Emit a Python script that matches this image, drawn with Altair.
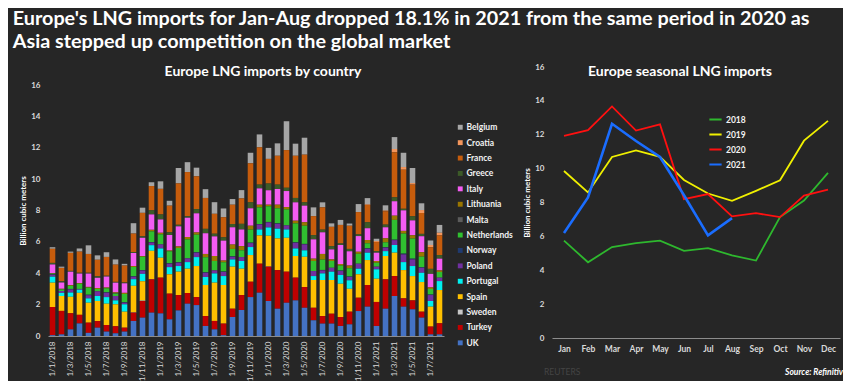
import altair as alt
import pandas as pd

# ---------------- data ----------------
countries = ["Belgium", "Croatia", "France", "Greece", "Italy", "Lithuania", "Malta",
             "Netherlands", "Norway", "Poland", "Portugal", "Spain", "Sweden", "Turkey", "UK"]
country_colors = ["#a6a6a6", "#f4965c", "#c65c0c", "#3c5a28", "#f45cf2", "#9a7600", "#5c5c5c",
                  "#30c030", "#1f3a70", "#7030a0", "#00f0f0", "#ffc000", "#c8c8c8", "#c00000", "#4472c4"]

month_labels = []
for yr in (2018, 2019, 2020, 2021):
    for m in range(1, 13):
        month_labels.append(f"1/{m}/{yr}")
month_labels = month_labels[:44]
tick_labels = month_labels[::2]

uk = [0.05, 0.10, 0.42, 0.80, 0.20, 0.53, 0.28, 0.17, 0.28, 0.96,
      1.17, 1.49, 1.44, 1.06, 1.63, 2.06, 1.97, 0.64, 0.42, 0.05,
      1.21, 1.66, 2.48, 2.76, 2.23, 1.74, 2.12, 2.27, 1.80, 1.00,
      0.79, 0.79, 0.64, 0.74, 1.59, 1.87, 0.64, 1.74, 2.55, 1.87,
      1.70, 1.17, 0.10, 0.10]
turkey = [1.80, 1.50, 1.03, 0.55, 0.65, 0.42, 0.42, 0.45, 0.25, 0.53,
          1.06, 2.12, 2.28, 1.64, 0.98, 0.68, 0.51, 0.63, 0.54, 0.74,
          0.53, 0.95, 0.98, 1.85, 2.19, 2.46, 1.98, 1.45, 1.32, 0.80,
          0.48, 0.63, 0.57, 0.81, 0.85, 1.38, 1.53, 1.87, 1.27, 0.53,
          0.57, 0.38, 0.50, 0.71]
sweden = [0.00, 0.00, 0.00, 0.00, 0.00, 0.00, 0.00, 0.00, 0.00, 0.02,
          0.03, 0.02, 0.00, 0.00, 0.00, 0.00, 0.00, 0.00, 0.00, 0.00,
          0.00, 0.00, 0.00, 0.00, 0.02, 0.00, 0.00, 0.00, 0.00, 0.00,
          0.00, 0.00, 0.00, 0.00, 0.00, 0.00, 0.00, 0.00, 0.00, 0.00,
          0.00, 0.00, 0.00, 0.00]
spain = [1.55, 0.95, 1.05, 1.40, 1.27, 1.28, 1.36, 1.40, 1.02, 1.69,
         1.23, 1.80, 1.27, 1.23, 1.49, 1.55, 1.98, 1.98, 2.44, 2.46,
         2.68, 1.68, 1.70, 1.80, 1.95, 2.02, 2.16, 1.38, 1.93, 1.77,
         2.30, 2.15, 2.12, 1.46, 1.49, 1.59, 1.48, 1.49, 1.49, 1.80,
         1.55, 1.89, 1.27, 2.12]
portugal = [0.38, 0.20, 0.27, 0.20, 0.28, 0.32, 0.42, 0.25, 0.47, 0.42,
            0.47, 0.36, 0.59, 0.46, 0.36, 0.42, 0.57, 0.51, 0.59, 0.57,
            0.46, 0.49, 0.51, 0.38, 0.53, 0.62, 0.53, 0.48, 0.41, 0.25,
            0.42, 0.53, 0.56, 0.54, 0.36, 0.47, 0.60, 0.31, 0.49, 0.51,
            0.64, 0.59, 0.36, 0.57]
poland = [0.12, 0.12, 0.20, 0.05, 0.20, 0.30, 0.28, 0.28, 0.10, 0.16,
          0.21, 0.17, 0.26, 0.22, 0.21, 0.24, 0.28, 0.27, 0.19, 0.26,
          0.17, 0.25, 0.25, 0.32, 0.32, 0.31, 0.26, 0.36, 0.38, 0.32,
          0.19, 0.25, 0.25, 0.21, 0.32, 0.25, 0.17, 0.22, 0.31, 0.49,
          0.42, 0.32, 0.38, 0.22]
norway = [0.03, 0.00, 0.03, 0.00, 0.03, 0.00, 0.03, 0.00, 0.03, 0.03,
          0.03, 0.03, 0.00, 0.03, 0.03, 0.00, 0.03, 0.03, 0.00, 0.03,
          0.03, 0.00, 0.03, 0.03, 0.03, 0.03, 0.00, 0.03, 0.03, 0.00,
          0.03, 0.00, 0.03, 0.03, 0.00, 0.03, 0.00, 0.03, 0.03, 0.05,
          0.05, 0.03, 0.03, 0.00]
netherlands = [0.05, 0.10, 0.20, 0.33, 0.45, 0.15, 0.25, 0.15, 0.53, 0.59,
               0.85, 0.68, 0.64, 0.76, 0.91, 1.21, 1.12, 0.96, 0.60, 0.59,
               0.47, 0.43, 0.83, 1.06, 1.00, 0.96, 1.02, 1.21, 1.16, 0.64,
               0.66, 0.43, 0.32, 0.53, 0.63, 0.32, 0.25, 0.31, 1.26, 1.28,
               1.28, 0.68, 0.36, 0.36]
malta = [0.00, 0.00, 0.00, 0.00, 0.00, 0.00, 0.00, 0.03, 0.00, 0.00,
         0.00, 0.00, 0.00, 0.00, 0.00, 0.00, 0.00, 0.00, 0.00, 0.00,
         0.00, 0.00, 0.00, 0.00, 0.00, 0.00, 0.00, 0.00, 0.00, 0.00,
         0.00, 0.00, 0.00, 0.00, 0.00, 0.00, 0.00, 0.00, 0.00, 0.00,
         0.00, 0.00, 0.00, 0.00]
lithuania = [0.03, 0.04, 0.05, 0.05, 0.05, 0.06, 0.05, 0.05, 0.07, 0.06,
             0.05, 0.10, 0.10, 0.05, 0.10, 0.15, 0.14, 0.21, 0.32, 0.11,
             0.28, 0.27, 0.25, 0.17, 0.10, 0.23, 0.15, 0.17, 0.22, 0.15,
             0.36, 0.10, 0.10, 0.17, 0.13, 0.21, 0.11, 0.26, 0.27, 0.17,
             0.21, 0.28, 0.10, 0.10]
italy = [0.55, 0.40, 0.85, 0.60, 0.85, 0.65, 0.70, 0.62, 0.61, 0.83,
         1.16, 0.98, 0.85, 0.99, 1.28, 1.23, 1.22, 1.32, 1.25, 1.27,
         1.10, 1.06, 1.11, 1.04, 0.92, 1.00, 1.02, 1.17, 1.06, 1.23,
         1.38, 0.64, 1.21, 0.91, 1.00, 0.75, 0.53, 0.70, 0.92, 1.31,
         0.95, 1.02, 0.86, 0.75]
greece = [0.10, 0.08, 0.05, 0.05, 0.05, 0.10, 0.05, 0.05, 0.05, 0.06,
          0.10, 0.26, 0.32, 0.17, 0.10, 0.10, 0.27, 0.28, 0.17, 0.21,
          0.21, 0.36, 0.38, 0.24, 0.43, 0.28, 0.21, 0.28, 0.21, 0.27,
          0.17, 0.21, 0.10, 0.15, 0.11, 0.38, 0.10, 0.17, 0.25, 0.10,
          0.26, 0.15, 0.32, 0.23]
france = [0.90, 0.85, 1.15, 1.35, 1.20, 1.05, 1.20, 1.10, 1.08, 1.18,
          1.49, 1.55, 1.63, 1.70, 2.64, 2.81, 2.09, 1.97, 1.27, 1.28,
          1.23, 1.62, 2.49, 2.38, 1.57, 1.84, 2.40, 2.69, 3.04, 1.21,
          1.42, 1.23, 1.18, 1.48, 1.42, 1.10, 0.58, 0.85, 2.87, 2.49,
          2.02, 1.33, 1.38, 1.25]
croatia = [0.00, 0.00, 0.00, 0.00, 0.00, 0.00, 0.00, 0.00, 0.00, 0.00,
           0.00, 0.00, 0.00, 0.00, 0.00, 0.00, 0.00, 0.00, 0.00, 0.00,
           0.00, 0.00, 0.00, 0.00, 0.00, 0.00, 0.00, 0.00, 0.00, 0.00,
           0.00, 0.00, 0.00, 0.00, 0.00, 0.04, 0.06, 0.05, 0.21, 0.17,
           0.10, 0.19, 0.14, 0.17]
belgium = [0.10, 0.08, 0.08, 0.20, 0.55, 0.28, 0.30, 0.33, 0.11, 0.66,
           0.33, 0.24, 0.48, 0.31, 0.98, 0.63, 0.55, 0.56, 0.74, 0.56,
           0.36, 0.53, 0.67, 0.82, 0.70, 0.79, 1.84, 0.77, 1.08, 0.56,
           0.32, 0.22, 0.32, 0.14, 0.51, 0.40, 0.15, 0.33, 0.76, 0.91,
           0.96, 0.43, 0.29, 0.50]

series = {"Belgium": belgium, "Croatia": croatia, "France": france, "Greece": greece,
          "Italy": italy, "Lithuania": lithuania, "Malta": malta, "Netherlands": netherlands,
          "Norway": norway, "Poland": poland, "Portugal": portugal, "Spain": spain,
          "Sweden": sweden, "Turkey": turkey, "UK": uk}

month_names = ["Jan", "Feb", "Mar", "Apr", "May", "Jun", "Jul", "Aug", "Sep", "Oct", "Nov", "Dec"]
years = ["2018", "2019", "2020", "2021"]
year_colors = ["#2eb82e", "#f0f000", "#ff1010", "#1a6dff"]
y2018 = [5.75, 4.47, 5.37, 5.60, 5.75, 5.14, 5.31, 4.88, 4.57, 7.14, 8.12, 9.75]
y2019 = [9.86, 8.59, 10.69, 11.08, 10.70, 9.33, 8.53, 8.10, 8.69, 9.31, 11.65, 12.82]
y2020 = [11.94, 12.27, 13.67, 12.25, 12.61, 8.20, 8.50, 7.18, 7.37, 7.14, 8.41, 8.76]
y2021 = [6.20, 8.30, 12.65, 11.63, 10.69, 8.43, 6.06, 7.08]

title_lines = ["Europe's LNG imports for Jan-Aug dropped 18.1% in 2021 from the same period in 2020 as",
               "Asia stepped up competition on the global market"]

# ---------------- tables ----------------
rows = []
for i, c in enumerate(countries):
    for lbl, v in zip(month_labels, series[c]):
        rows.append({"month": lbl, "country": c, "value": v, "rank": len(countries) - 1 - i})
df_bars = pd.DataFrame(rows)

lrows = []
for yr, vals in zip(years, [y2018, y2019, y2020, y2021]):
    for mn, v in zip(month_names, vals):
        lrows.append({"mon": mn, "year": yr, "val": v})
df_lines = pd.DataFrame(lrows)

FONT = "Lato"
LBL = "#d9d9d9"
one = pd.DataFrame({"k": [0]})

LEFT_H = 269
# ---------------- left chart ----------------
bars = alt.Chart(df_bars).mark_bar().encode(
    x=alt.X("month:N", sort=month_labels,
            scale=alt.Scale(paddingInner=0.38, paddingOuter=0.19),
            axis=alt.Axis(values=tick_labels, labelAngle=-90, ticks=False, title=None,
                          labelFontSize=8, labelColor=LBL, labelFont=FONT, labelPadding=5,
                          domainColor="#8c8c8c", domainWidth=1.2)),
    y=alt.Y("value:Q", stack="zero", scale=alt.Scale(domain=[0, 16], nice=False, range=[LEFT_H, 18]),
            axis=alt.Axis(values=list(range(0, 17, 2)), grid=False, ticks=False, domain=False,
                          labelFontSize=8, labelFontWeight="bold", labelColor=LBL, labelFont=FONT,
                          labelPadding=8, title="Billion cubic meters", titleFontSize=8,
                          titleFont=FONT, titleColor="#ffffff", titleFontWeight="bold",
                          titlePadding=3, titleY=(LEFT_H + 18) / 2)),
    color=alt.Color("country:N", scale=alt.Scale(domain=countries, range=country_colors),
                    legend=alt.Legend(title=None, orient="none", legendX=408, legendY=56,
                                      symbolType="square", symbolSize=24, symbolStrokeWidth=0,
                                      labelFontSize=8.5, labelFontWeight="bold", labelFont=FONT,
                                      labelColor="#f2f2f2", labelOffset=2, rowPadding=6.4, padding=0)),
    order=alt.Order("rank:Q", sort="ascending"),
)
left_title = alt.Chart(one).mark_text(text="Europe LNG imports by country", font=FONT, fontSize=14,
                                      fontWeight="bold", color="#ffffff").encode(
    x=alt.value(215), y=alt.value(5))
left = alt.layer(bars, left_title).properties(width=396, height=LEFT_H)

# ---------------- right chart ----------------
lines = alt.Chart(df_lines).mark_line().encode(
    x=alt.X("mon:N", sort=month_names, scale=alt.Scale(type="point", padding=0.5),
            axis=alt.Axis(labelAngle=0, ticks=False, title=None, labelFontSize=8.5,
                          labelFontWeight="bold", labelColor=LBL, labelFont=FONT, labelPadding=6,
                          domainColor="#8c8c8c", domainWidth=1.2)),
    y=alt.Y("val:Q", scale=alt.Scale(domain=[0, 16], nice=False),
            axis=alt.Axis(values=list(range(0, 17, 2)), grid=False, ticks=False, domain=False,
                          labelFontSize=8, labelFontWeight="bold", labelColor=LBL, labelFont=FONT,
                          labelPadding=8, title="Billion cubic meters", titleFontSize=8,
                          titleFont=FONT, titleColor="#ffffff", titleFontWeight="bold",
                          titlePadding=3)),
    color=alt.Color("year:N", scale=alt.Scale(domain=years, range=year_colors),
                    legend=alt.Legend(title=None, orient="none", legendX=156, legendY=45,
                                      symbolType="stroke", symbolSize=150, symbolStrokeWidth=2,
                                      labelFontSize=8.5, labelFontWeight="bold", labelFont=FONT,
                                      labelColor="#f2f2f2", labelOffset=3, rowPadding=3, padding=0)),
    strokeWidth=alt.condition(alt.datum.year == "2021", alt.value(2.6), alt.value(1.8)),
)
right_title = alt.Chart(one).mark_text(text="Europe seasonal LNG imports", font=FONT, fontSize=14,
                                       fontWeight="bold", color="#ffffff").encode(
    x=alt.value(128), y=alt.value(5))
source = alt.Chart(one).mark_text(text="Source: Refinitiv", font=FONT, fontSize=8.5,
                                  fontWeight="bold", fontStyle="italic", color="#ffffff",
                                  align="right").encode(x=alt.value(291), y=alt.value(305))
reuters = alt.Chart(one).mark_text(text="REUTERS", font=FONT, fontSize=8.5, color="#444444",
                                   align="left").encode(x=alt.value(-8), y=alt.value(305))
right = alt.layer(lines, right_title, source, reuters).properties(width=288, height=271)

chart = alt.hconcat(left, right, spacing=10).resolve_scale(
    color="independent", x="independent", y="independent"
).resolve_legend(color="independent").properties(
    title=alt.TitleParams(text=title_lines, anchor="start", font=FONT, fontSize=19.8,
                          fontWeight="bold", color="#ffffff", lineHeight=23, offset=11, dx=-7),
    background="#262626",
    padding={"left": 4, "top": 1, "right": 0, "bottom": 0},
).configure_view(stroke=None)

chart.save("out.html", embed_options={"renderer": "svg", "actions": False})
